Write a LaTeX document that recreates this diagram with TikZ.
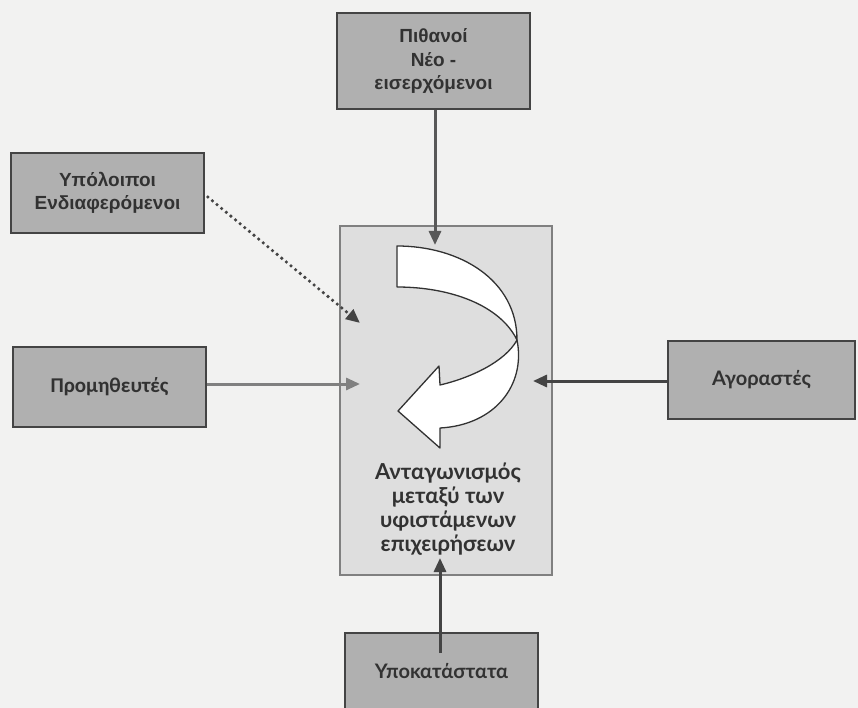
\documentclass[tikz,border=0pt]{standalone}
\usepackage{fontspec}
\setmainfont{Liberation Sans}
\newfontfamily\calfont{Carlito}
\newfontfamily\latofont{Lato}
\usetikzlibrary{positioning, calc, arrows.meta}
\definecolor{papergray}{RGB}{242,242,241}
\definecolor{boxfill}{RGB}{176,176,176}
\definecolor{rivfill}{RGB}{222,222,222}
\definecolor{edgedark}{RGB}{68,68,68}
\definecolor{inkdark}{RGB}{50,50,50}
\definecolor{linkgray}{RGB}{88,88,88}
\definecolor{linklight}{RGB}{128,128,128}
\tikzset{
  forcebox/.style={draw=edgedark, fill=boxfill, line width=1.6pt, inner sep=0pt,
    minimum width=193pt, minimum height=80pt, align=center, text=inkdark,
    font=\fontsize{19}{23.5}\selectfont\bfseries},
  link/.style={draw=#1, line width=3pt, -{Triangle[length=14pt, width=12pt]}},
  twist/.style={draw=inkdark, fill=white, line width=1.3pt, line join=round},
}

\begin{document}
\begin{tikzpicture}[x=1pt, y=-1pt]

% ============================================================ page
\useasboundingbox (0,0) rectangle (858,708);
\clip (0,0) rectangle (858,708);
\fill[papergray] (0,0) rectangle (858,708);

% ============================================================ centre: rivalry
\node[draw=linklight, fill=rivfill, line width=1.2pt, minimum width=212pt,
  minimum height=349pt, inner sep=0pt] (riv) at (446,400.5) {};
\node[align=center, text=inkdark, font=\latofont\fontsize{22}{24}\selectfont\bfseries]
  (rivtxt) at (448,509) {Ανταγωνισμός\\μεταξύ των\\υφιστάμενων\\επιχειρήσεων};

% twisted curved arrow inside the box
\filldraw[twist] (397,246) .. controls (460,246) and (517,280) .. (517,340)
  .. controls (500,305) and (450,287) .. (397,287) -- cycle;
\filldraw[twist] (517,340) .. controls (526,385) and (495,425) .. (440,428)
  -- (440,448) -- (398,411) -- (439,366) -- (440,385)
  .. controls (470,378) and (505,362) .. (517,340) -- cycle;

% ============================================================ the five forces
\node[forcebox, minimum height=96pt] (newent) at (433.5,61) {Πιθανοί\\Νέο -\\εισερχόμενοι};
\node[forcebox] (stake) at (107.5,193) {Υπόλοιποι\\Ενδιαφερόμενοι};
\node[forcebox, font=\calfont\fontsize{21}{23}\selectfont\bfseries] (supp) at (109.5,387) {Προμηθευτές};
\node[forcebox, minimum width=187pt, minimum height=78pt,
  font=\latofont\fontsize{20}{23}\selectfont\bfseries] (buyer) at (761.5,380) {Αγοραστές};
\node[forcebox, font=\latofont\fontsize{20}{23}\selectfont\bfseries,
  text height=14pt, text depth=4pt] (subst) at (441.5,673) {Υποκατάστατα};

% ============================================================ links
\coordinate (inN)  at (435,245);
\coordinate (inNW) at (360,323);
\coordinate (inW)  at (360,384);
\coordinate (inE)  at (533,381);
\coordinate (inS)  at (440,558);
\coordinate (sbot) at (440,653);

\draw[link=linkgray] (newent.south -| inN) -- (inN);
\draw[link=linklight] (supp.east |- inW) -- (inW);
\draw[link=edgedark] (buyer.west |- inE) -- (inE);
\draw[link=edgedark] (sbot) -- (inS);
\draw[link=edgedark, line width=3.6pt, line cap=round, dash pattern=on 0pt off 6pt]
  ($(stake.east)+(3,4)$) -- (inNW);

\end{tikzpicture}
\end{document}
